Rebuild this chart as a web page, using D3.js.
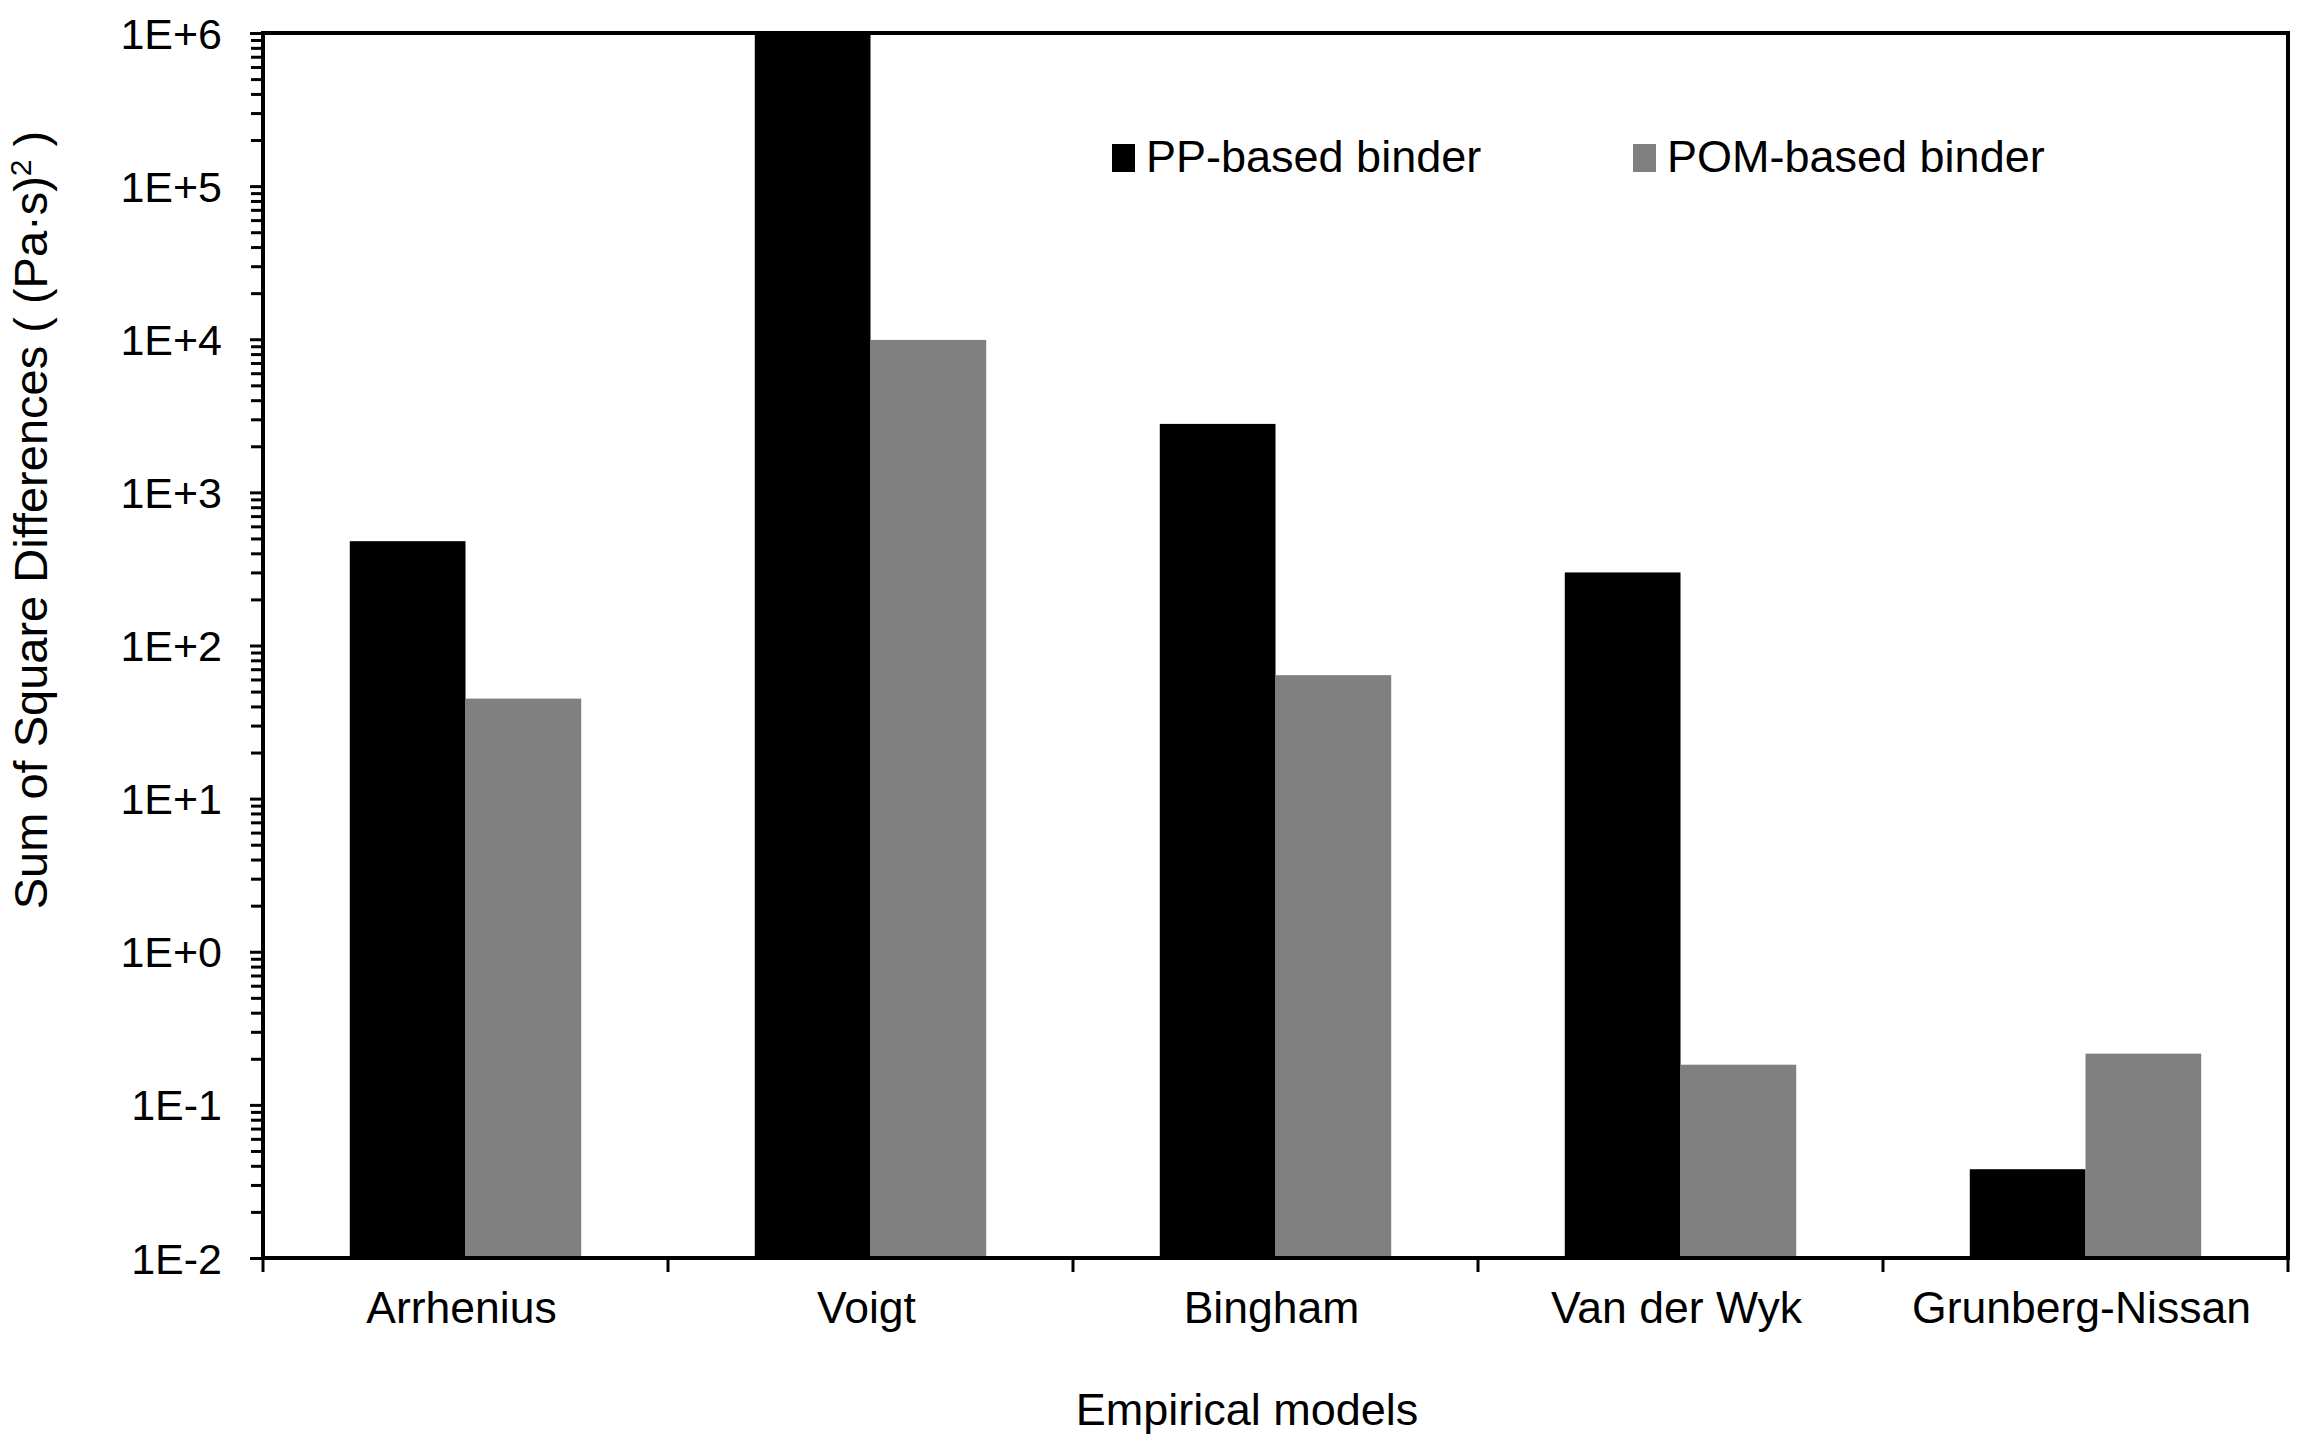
<!DOCTYPE html>
<html>
<head>
<meta charset="utf-8">
<script src="https://cdn.jsdelivr.net/npm/d3@7"></script>
<style>
body { margin: 0; background: #fff; }
text { font-family: "Liberation Sans", Arial, sans-serif; fill: #000; }
</style>
</head>
<body>
<svg id="chart"></svg>
<script>
// data
var models = ["Arrhenius", "Voigt", "Bingham", "Van der Wyk", "Grunberg-Nissan"];
var seriesNames = ["PP-based binder", "POM-based binder"];
var ppValues = [480, 1000000, 2800, 300, 0.038];
var pomValues = [45, 9900, 64, 0.183, 0.216];
var yTickValues = [1e-2, 1e-1, 1e0, 1e1, 1e2, 1e3, 1e4, 1e5, 1e6];
var yTickLabels = ["1E-2", "1E-1", "1E+0", "1E+1", "1E+2", "1E+3", "1E+4", "1E+5", "1E+6"];
var colors = ["#000000", "#808080"];

var width = 2305;
var height = 1446;
var plotLeft = 263, plotRight = 2288, plotTop = 33, plotBottom = 1258;

var svg = d3.select("#chart")
  .attr("width", width)
  .attr("height", height);

var x = d3.scaleBand()
  .domain(models)
  .range([plotLeft, plotRight])
  .paddingInner(0)
  .paddingOuter(0);

var xInner = d3.scaleBand()
  .domain(seriesNames)
  .range([0, x.bandwidth()])
  .paddingInner(0)
  .paddingOuter(0.75);

var y = d3.scaleLog()
  .domain([1e-2, 1e6])
  .range([plotBottom, plotTop]);

var color = d3.scaleOrdinal().domain(seriesNames).range(colors);

// rows for the grouped bars
var rows = models.map(function(m, i) {
  return { model: m, values: [
    { name: seriesNames[0], value: ppValues[i] },
    { name: seriesNames[1], value: pomValues[i] }
  ]};
});

var groups = svg.selectAll("g.group")
  .data(rows)
  .enter()
  .append("g")
  .attr("class", "group")
  .attr("transform", function(d) { return "translate(" + x(d.model) + ",0)"; });

groups.selectAll("rect")
  .data(function(d) { return d.values; })
  .enter()
  .append("rect")
  .attr("x", function(d) { return xInner(d.name); })
  .attr("width", xInner.bandwidth())
  .attr("y", function(d) { return y(Math.min(d.value, 1e6)); })
  .attr("height", function(d) { return plotBottom - y(Math.min(d.value, 1e6)); })
  .attr("fill", function(d) { return color(d.name); });

// minor ticks on the log axis
var minorTicks = [];
yTickValues.slice(0, -1).forEach(function(v) {
  for (var k = 2; k <= 9; k++) minorTicks.push(v * k);
});

var yMinor = svg.append("g")
  .attr("transform", "translate(" + plotLeft + ",0)")
  .call(d3.axisLeft(y).tickValues(minorTicks).tickFormat("").tickSize(12).tickSizeOuter(0));
yMinor.select(".domain").remove();
yMinor.selectAll("line").attr("stroke", "#000").attr("stroke-width", 3);

var yAxis = svg.append("g")
  .attr("transform", "translate(" + plotLeft + ",0)")
  .call(d3.axisLeft(y)
    .tickValues(yTickValues)
    .tickFormat(function(d, i) { return yTickLabels[i]; })
    .tickSize(13)
    .tickSizeOuter(0)
    .tickPadding(28));
yAxis.select(".domain").remove();
yAxis.selectAll("line").attr("stroke", "#000").attr("stroke-width", 3);
yAxis.selectAll("text")
  .attr("font-size", "43px")
  .attr("font-family", "Liberation Sans, Arial, sans-serif")
  .attr("fill", "#000")
  .attr("dy", "0.35em");

// category boundary ticks
var boundaries = models.map(function(m) { return x(m); }).concat([x(models[models.length - 1]) + x.bandwidth()]);
svg.selectAll("line.xtick")
  .data(boundaries)
  .enter()
  .append("line")
  .attr("class", "xtick")
  .attr("x1", function(d) { return d; })
  .attr("x2", function(d) { return d; })
  .attr("y1", plotBottom)
  .attr("y2", plotBottom + 14)
  .attr("stroke", "#000")
  .attr("stroke-width", 3);

svg.selectAll("text.xlabel")
  .data(models)
  .enter()
  .append("text")
  .attr("class", "xlabel")
  .attr("x", function(d) { return x(d) + x.bandwidth() / 2 - 4; })
  .attr("y", plotBottom + 65)
  .attr("text-anchor", "middle")
  .attr("font-size", "44.5px")
  .text(function(d) { return d; });

// plot frame
svg.append("rect")
  .attr("x", plotLeft)
  .attr("y", plotTop)
  .attr("width", plotRight - plotLeft)
  .attr("height", plotBottom - plotTop)
  .attr("fill", "none")
  .attr("stroke", "#000")
  .attr("stroke-width", 4);

// legend
var legendX = [1112, 1633];
var legend = svg.selectAll("g.legend")
  .data(seriesNames)
  .enter()
  .append("g")
  .attr("class", "legend")
  .attr("transform", function(d, i) { return "translate(" + legendX[i] + ",0)"; });

legend.append("rect")
  .attr("x", 0)
  .attr("y", 144)
  .attr("width", 23)
  .attr("height", 28)
  .attr("fill", function(d) { return color(d); });

legend.append("text")
  .attr("x", 34)
  .attr("y", 172)
  .attr("font-size", "45px")
  .text(function(d) { return d; });

// axis titles
svg.append("text")
  .attr("x", 1247)
  .attr("y", 1425)
  .attr("text-anchor", "middle")
  .attr("font-size", "45px")
  .text("Empirical models");

var yTitle = svg.append("text")
  .attr("transform", "translate(47,520) rotate(-90)")
  .attr("text-anchor", "middle")
  .attr("font-size", "47px");
yTitle.append("tspan").text("Sum of Square Differences ( (Pa·s)");
yTitle.append("tspan").attr("baseline-shift", "super").attr("font-size", "30px").text("2");
yTitle.append("tspan").text(" )");
</script>
</body>
</html>
